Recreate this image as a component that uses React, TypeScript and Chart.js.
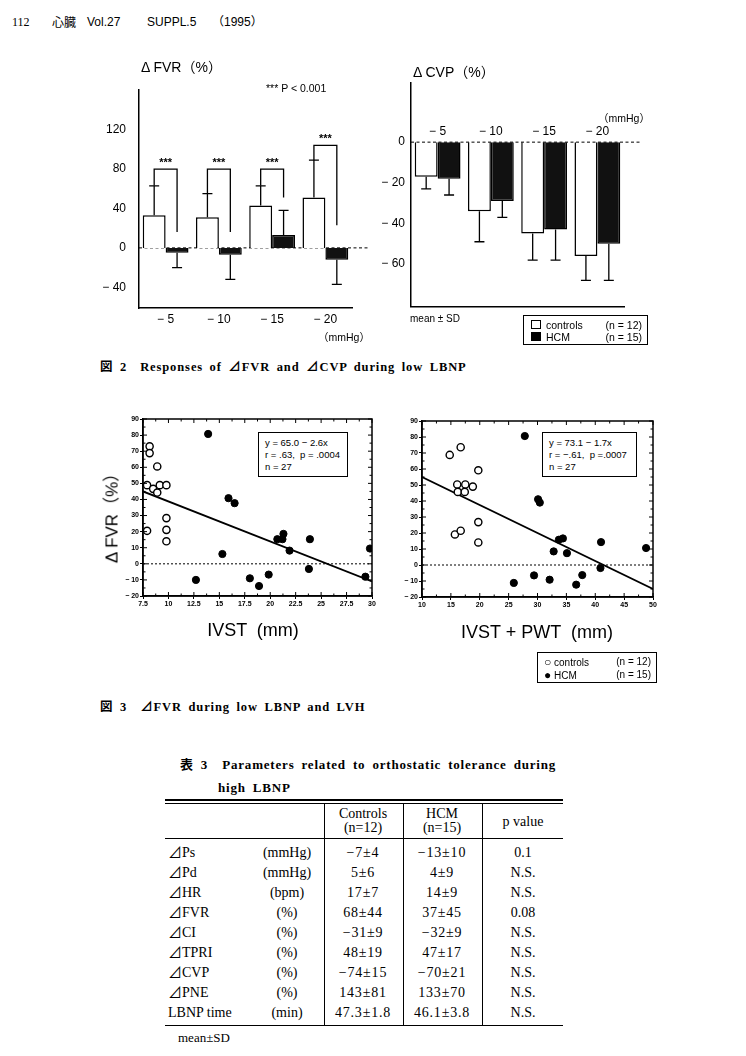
import React, { useEffect, useRef } from 'react';
import { Chart, registerables } from 'chart.js';
Chart.register(...registerables);

const SANS = '"Liberation Sans", Arial, "Noto Sans CJK JP", sans-serif';
const SERIF = '"Liberation Serif", "Times New Roman", "Noto Sans CJK JP", serif';
const CJK = '"Noto Sans CJK JP", sans-serif';

// ---------- Fig. 2 data ----------
const pressures = ['− 5', '− 10', '− 15', '− 20'];
const fvrControls = [33, 31, 43, 51];
const fvrControlsSD = [30, 24, 20, 38];
const fvrHCM = [-5, -7, 13, -12];
const fvrHCMSD = [15, 25, 25, 25];
const fvrTicks = [-40, 0, 40, 80, 120];
const fvrBracketTop = [80, 80, 80, 104];
const fvrBracketRightEnd = [16, 16, 51, 23];

const cvpControls = [-17, -34, -45, -56];
const cvpControlsSD = [6, 15, 13, 12];
const cvpHCM = [-18, -29, -43, -50];
const cvpHCMSD = [8, 8, 15, 18];
const cvpTicks = [-60, -40, -20, 0];

// ---------- Fig. 3 data ----------
const scatterYTicks = [-20, -10, 0, 10, 20, 30, 40, 50, 60, 70, 80, 90];
const ivstTicks = [7.5, 10, 12.5, 15, 17.5, 20, 22.5, 25, 27.5, 30];
const ivstControlsX = [8.15, 8.15, 7.9, 8.5, 8.9, 8.9, 9.15, 9.8, 7.9, 9.8, 9.8, 9.8];
const ivstControlsY = [73, 68.8, 48.9, 46.6, 60.5, 44.3, 48.9, 48.9, 20.5, 28.4, 21.1, 14];
const ivstHCMX = [13.9, 15.9, 16.5, 15.3, 12.7, 18.0, 18.9, 19.85, 20.7, 21.2, 21.3, 21.9, 23.9, 23.8, 29.35, 29.8];
const ivstHCMY = [80.7, 40.8, 37.7, 6.1, -10, -9, -13.8, -6.7, 15.3, 15.3, 18.6, 8.2, 15.3, -3.2, -8, 9.5];
const ivstRegX = [7.5, 30];
const ivstRegY = [45, -11];

const pwtTicks = [10, 15, 20, 25, 30, 35, 40, 45, 50];
const pwtControlsX = [14.8, 16.7, 16.1, 17.5, 18.8, 19.75, 16.2, 17.4, 15.7, 16.7, 19.75, 19.75];
const pwtControlsY = [68.8, 73.6, 50.3, 50.3, 49.0, 59.2, 45.7, 45.7, 19.1, 21.4, 26.8, 14.1];
const pwtHCMX = [27.8, 30.1, 30.4, 32.8, 33.7, 34.4, 35.1, 41.0, 40.9, 48.8, 25.9, 29.4, 32.1, 36.7, 37.75];
const pwtHCMY = [80.6, 41.1, 39.0, 8.5, 15.8, 16.6, 7.4, 14.3, -1.9, 10.6, -11.2, -6.5, -9.2, -12.3, -6.3];
const pwtRegX = [10, 50];
const pwtRegY = [55, -15];

// ---------- Table 3 data ----------
const tableLabels = ['⊿Ps', '⊿Pd', '⊿HR', '⊿FVR', '⊿CI', '⊿TPRI', '⊿CVP', '⊿PNE', 'LBNP time'];
const tableUnits = ['(mmHg)', '(mmHg)', '(bpm)', '(%)', '(%)', '(%)', '(%)', '(%)', '(min)'];
const tableControls = ['−7±4', '5±6', '17±7', '68±44', '−31±9', '48±19', '−74±15', '143±81', '47.3±1.8'];
const tableHCM = ['−13±10', '4±9', '14±9', '37±45', '−32±9', '47±17', '−70±21', '133±70', '46.1±3.8'];
const tableP = ['0.1', 'N.S.', 'N.S.', '0.08', 'N.S.', 'N.S.', 'N.S.', 'N.S.', 'N.S.'];

const fmtNeg = (v: number) => (v < 0 ? `− ${-v}` : `${v}`);
const zip = (xs: number[], ys: number[]) => xs.map((x, i) => ({ x, y: ys[i] }));

function drawErrorBars(chart: any, series: [number[], number[]][]) {
  const { ctx, scales: { y } } = chart;
  ctx.save();
  ctx.strokeStyle = '#000';
  ctx.lineWidth = 1.3;
  series.forEach(([vals, sds], di) => {
    chart.getDatasetMeta(di).data.forEach((el: any, i: number) => {
      const v = vals[i];
      const e = v + Math.sign(v) * sds[i];
      const yb = y.getPixelForValue(v);
      const ye = y.getPixelForValue(e);
      ctx.beginPath();
      ctx.moveTo(el.x, yb);
      ctx.lineTo(el.x, ye);
      ctx.moveTo(el.x - 5, ye);
      ctx.lineTo(el.x + 5, ye);
      ctx.stroke();
    });
  });
  ctx.restore();
}

function drawZeroLine(chart: any, extra: number) {
  const { ctx, chartArea: ca, scales: { y } } = chart;
  const y0 = y.getPixelForValue(0);
  ctx.save();
  ctx.strokeStyle = '#000';
  ctx.lineWidth = 1;
  ctx.setLineDash([3, 2.5]);
  ctx.beginPath();
  ctx.moveTo(ca.left, y0);
  ctx.lineTo(ca.right + extra, y0);
  ctx.stroke();
  ctx.restore();
}

const fvrPlugin = {
  id: 'fvrExtras',
  beforeDatasetsDraw(chart: any) {
    drawZeroLine(chart, 18);
  },
  afterDatasetsDraw(chart: any) {
    drawErrorBars(chart, [[fvrControls, fvrControlsSD], [fvrHCM, fvrHCMSD]]);
    const { ctx, scales: { y } } = chart;
    const c = chart.getDatasetMeta(0).data;
    const h = chart.getDatasetMeta(1).data;
    ctx.save();
    ctx.strokeStyle = '#000';
    ctx.lineWidth = 1.3;
    ctx.fillStyle = '#000';
    ctx.font = `bold 11px ${SANS}`;
    ctx.textAlign = 'center';
    ctx.textBaseline = 'middle';
    pressures.forEach((_, i) => {
      const xl = c[i].x;
      const xr = h[i].x;
      const yt = y.getPixelForValue(fvrBracketTop[i]);
      const yl = y.getPixelForValue(fvrControls[i] + fvrControlsSD[i]);
      const yr = y.getPixelForValue(fvrBracketRightEnd[i]);
      ctx.beginPath();
      ctx.moveTo(xl, yl);
      ctx.lineTo(xl, yt);
      ctx.lineTo(xr, yt);
      ctx.lineTo(xr, yr);
      ctx.stroke();
      ctx.fillText('***', (xl + xr) / 2, yt - 6);
    });
    ctx.restore();
  },
};

const cvpPlugin = {
  id: 'cvpExtras',
  afterDatasetsDraw(chart: any) {
    drawZeroLine(chart, 18);
    drawErrorBars(chart, [[cvpControls, cvpControlsSD], [cvpHCM, cvpHCMSD]]);
    const { ctx, scales: { x, y } } = chart;
    ctx.save();
    ctx.fillStyle = '#000';
    ctx.font = `12px ${SANS}`;
    ctx.textAlign = 'center';
    ctx.textBaseline = 'middle';
    const y0 = y.getPixelForValue(0);
    pressures.forEach((p, i) => ctx.fillText(p, x.getPixelForValue(i), y0 - 10));
    ctx.restore();
  },
};

const framePlugin = {
  id: 'frame',
  afterDraw(chart: any) {
    const { ctx, chartArea: ca, scales: { x, y } } = chart;
    ctx.save();
    ctx.strokeStyle = '#000';
    ctx.lineWidth = 1.5;
    ctx.strokeRect(ca.left, ca.top, ca.right - ca.left, ca.bottom - ca.top);
    ctx.lineWidth = 1;
    const xt = x.ticks.map((t: any) => t.value);
    const yt = y.ticks.map((t: any) => t.value);
    const mids = (a: number[]) => a.slice(1).map((v, i) => (v + a[i]) / 2);
    ctx.beginPath();
    const tick = (vals: number[], len: number) => {
      vals.forEach((v) => {
        const px = x.getPixelForValue(v);
        ctx.moveTo(px, ca.bottom); ctx.lineTo(px, ca.bottom - len);
        ctx.moveTo(px, ca.top); ctx.lineTo(px, ca.top + len);
      });
    };
    const tickY = (vals: number[], len: number) => {
      vals.forEach((v) => {
        const py = y.getPixelForValue(v);
        ctx.moveTo(ca.left, py); ctx.lineTo(ca.left + len, py);
        ctx.moveTo(ca.right, py); ctx.lineTo(ca.right - len, py);
      });
    };
    tick(xt, 4); tick(mids(xt), 2.5);
    tickY(yt, 4); tickY(mids(yt), 2.5);
    ctx.stroke();
    ctx.restore();
  },
};

function barConfig(kind: 'fvr' | 'cvp') {
  const isF = kind === 'fvr';
  return {
    type: 'bar',
    data: {
      labels: pressures,
      datasets: [
        { label: 'controls', data: isF ? fvrControls : cvpControls, backgroundColor: '#fff', borderColor: '#000', borderWidth: 1.5, borderSkipped: 'start' },
        { label: 'HCM', data: isF ? fvrHCM : cvpHCM, backgroundColor: '#111', borderColor: '#000', borderWidth: 1.5, borderSkipped: 'start' },
      ],
    },
    options: {
      responsive: false,
      animation: false,
      layout: { padding: isF ? { left: 0, right: 23, top: 10, bottom: 22 } : { left: 0, right: 21, top: 12, bottom: 12 } },
      datasets: { bar: { categoryPercentage: 0.86, barPercentage: 1 } },
      plugins: { legend: { display: false }, tooltip: { enabled: false } },
      scales: {
        x: {
          grid: { display: false, drawTicks: false },
          border: { display: true, color: '#000', width: 1.5 },
          ticks: { display: isF, color: '#000', font: { family: SANS, size: 12 }, padding: 4, maxRotation: 0 },
          afterFit: (s: any) => { s.height = isF ? 20 : 0; },
        },
        y: {
          min: isF ? -61 : -81,
          max: isF ? 160 : 29,
          grid: { display: false, drawTicks: false },
          border: { display: true, color: '#000', width: 1.5 },
          afterBuildTicks: (s: any) => { s.ticks = (isF ? fvrTicks : cvpTicks).map((v) => ({ value: v })); },
          ticks: { color: '#000', font: { family: SANS, size: 12 }, padding: isF ? 13 : 6, callback: (v: any) => fmtNeg(Number(v)) },
          afterFit: (s: any) => { s.width = isF ? 44 : 46; },
        },
      },
    },
    plugins: [isF ? fvrPlugin : cvpPlugin],
  };
}

function scatterConfig(o: any) {
  const xMin = o.xTicks[0];
  const xMax = o.xTicks[o.xTicks.length - 1];
  return {
    type: 'scatter',
    data: {
      datasets: [
        { type: 'line', data: [{ x: xMin, y: 0 }, { x: xMax, y: 0 }], borderColor: '#000', borderWidth: 1, borderDash: [2, 2], pointRadius: 0, order: 3 },
        { type: 'line', data: zip(o.rx, o.ry), borderColor: '#000', borderWidth: 1.8, pointRadius: 0, order: 2 },
        { data: zip(o.cx, o.cy), pointRadius: 3.6, pointBackgroundColor: '#fff', pointBorderColor: '#000', pointBorderWidth: 1.4, order: 1 },
        { data: zip(o.hx, o.hy), pointRadius: 3.6, pointBackgroundColor: '#000', pointBorderColor: '#000', pointBorderWidth: 1, order: 0 },
      ],
    },
    options: {
      responsive: false,
      animation: false,
      layout: { padding: o.pad },
      plugins: { legend: { display: false }, tooltip: { enabled: false } },
      scales: {
        x: {
          type: 'linear',
          min: xMin,
          max: xMax,
          grid: { display: true, drawOnChartArea: false, drawTicks: true, tickLength: 3, color: '#000', lineWidth: 1 },
          border: { display: true, color: '#000', width: 1.5 },
          afterBuildTicks: (s: any) => { s.ticks = o.xTicks.map((v: number) => ({ value: v })); },
          ticks: { color: '#000', font: { family: SANS, size: 7, weight: 'bold' }, padding: 1, maxRotation: 0, autoSkip: false, callback: (v: any) => String(v) },
          afterFit: (s: any) => { s.height = 14; },
        },
        y: {
          min: -20,
          max: 90,
          grid: { display: true, drawOnChartArea: false, drawTicks: true, tickLength: 3, color: '#000', lineWidth: 1 },
          border: { display: true, color: '#000', width: 1.5 },
          afterBuildTicks: (s: any) => { s.ticks = scatterYTicks.map((v) => ({ value: v })); },
          ticks: { color: '#000', font: { family: SANS, size: 7, weight: 'bold' }, padding: 1, autoSkip: false, callback: (v: any) => fmtNeg(Number(v)) },
          afterFit: (s: any) => { s.width = o.wY; },
        },
      },
    },
    plugins: [framePlugin],
  };
}

function ChartCanvas({ left, top, width, height, make }: any) {
  const ref = useRef<HTMLCanvasElement>(null);
  useEffect(() => {
    const chart = new Chart(ref.current as HTMLCanvasElement, make());
    return () => chart.destroy();
  }, []);
  return <canvas ref={ref} width={width} height={height} style={{ position: 'absolute', left, top, width, height }} />;
}

function T({ x, y, size, children, align = 'left', family = SANS, bold = false, ls = 0, ws = 0 }: any) {
  const tx = align === 'center' ? '-50%' : align === 'right' ? '-100%' : '0';
  return (
    <div
      style={{
        position: 'absolute', left: x, top: y, transform: `translate(${tx}, -50%)`,
        fontSize: size, lineHeight: `${Math.round(size * 1.2)}px`, fontFamily: family,
        fontWeight: bold ? 700 : 400, letterSpacing: ls, wordSpacing: ws, whiteSpace: 'pre', color: '#000',
      }}
    >
      {children}
    </div>
  );
}

function Line({ x, y, w, h }: any) {
  return <div style={{ position: 'absolute', left: x, top: y, width: w, height: h, background: '#000' }} />;
}

function Box({ x, y, w, h, children }: any) {
  return (
    <div style={{ position: 'absolute', left: x, top: y, width: w, height: h, border: '1.5px solid #000', boxSizing: 'border-box', background: '#fff' }}>
      {children}
    </div>
  );
}

export default function App() {
  const rowY = (i: number) => 852 + i * 20;
  return (
    <div style={{ position: 'absolute', left: 0, top: 0, width: 746, height: 1056, background: '#fff', overflow: 'hidden' }}>
      {/* running header */}
      <T x={12} y={22} size={12} family={SERIF}>112</T>
      <T x={52} y={22} size={12} family={CJK}>心臓</T>
      <T x={87} y={22} size={12}>Vol.27</T>
      <T x={147} y={22} size={12}>SUPPL.5</T>
      <T x={212} y={22} size={12}>（1995）</T>

      {/* Fig 2 */}
      <ChartCanvas left={95} top={70} width={280} height={280} make={() => barConfig('fvr')} />
      <ChartCanvas left={365} top={70} width={280} height={250} make={() => barConfig('cvp')} />
      <T x={141} y={67} size={14}>Δ FVR（%）</T>
      <T x={266} y={88} size={10.5}>*** P &lt; 0.001</T>
      <T x={318} y={337} size={10.5}>（mmHg）</T>
      <T x={413} y={72} size={14}>Δ CVP（%）</T>
      <T x={598} y={118} size={10.5}>（mmHg）</T>
      <T x={410} y={319} size={10}>mean ± SD</T>
      <Box x={523} y={315} w={125} h={30}>
        <div style={{ position: 'absolute', left: 7, top: 4, width: 10, height: 9, border: '1.3px solid #000', boxSizing: 'border-box' }} />
        <div style={{ position: 'absolute', left: 7, top: 16, width: 10, height: 9, background: '#000' }} />
        <T x={22} y={9} size={10.5}>controls</T>
        <T x={118} y={9} size={10.5} align="right">(n = 12)</T>
        <T x={22} y={21} size={10.5}>HCM</T>
        <T x={118} y={21} size={10.5} align="right">(n = 15)</T>
      </Box>
      <T x={100} y={367} size={12.5} family={SERIF} bold ls={0.9} ws={2.5}>図 2  Responses of ⊿FVR and ⊿CVP during low LBNP</T>

      {/* Fig 3 */}
      <ChartCanvas
        left={100} top={405} width={290} height={215}
        make={() => scatterConfig({ cx: ivstControlsX, cy: ivstControlsY, hx: ivstHCMX, hy: ivstHCMY, rx: ivstRegX, ry: ivstRegY, xTicks: ivstTicks, wY: 43, pad: { left: 0, right: 18, top: 14, bottom: 10 } })}
      />
      <ChartCanvas
        left={390} top={405} width={275} height={215}
        make={() => scatterConfig({ cx: pwtControlsX, cy: pwtControlsY, hx: pwtHCMX, hy: pwtHCMY, rx: pwtRegX, ry: pwtRegY, xTicks: pwtTicks, wY: 32, pad: { left: 0, right: 12, top: 16, bottom: 9 } })}
      />
      <div style={{ position: 'absolute', left: 110, top: 514, transform: 'translate(-50%, -50%) rotate(-90deg)', fontSize: 17, fontFamily: SANS, whiteSpace: 'pre' }}>Δ FVR（%）</div>
      <T x={253} y={630} size={18} align="center">IVST  (mm)</T>
      <T x={537} y={632} size={18} align="center">IVST + PWT  (mm)</T>
      <Box x={258} y={432} w={90} h={45}>
        <T x={6} y={9} size={9.5}>y = 65.0 − 2.6x</T>
        <T x={6} y={21} size={9.5}>r = .63,  p = .0004</T>
        <T x={6} y={33} size={9.5}>n = 27</T>
      </Box>
      <Box x={542} y={432} w={95} h={45}>
        <T x={6} y={9} size={9.5}>y = 73.1 − 1.7x</T>
        <T x={6} y={21} size={9.5}>r = −.61,  p =.0007</T>
        <T x={6} y={33} size={9.5}>n = 27</T>
      </Box>
      <Box x={537} y={652} w={120} h={31}>
        <T x={6} y={9} size={10}><span style={{ fontSize: 12 }}>○</span> controls</T>
        <T x={113} y={9} size={10} align="right">(n = 12)</T>
        <T x={6} y={22} size={10}><span style={{ fontSize: 12 }}>●</span> HCM</T>
        <T x={113} y={22} size={10} align="right">(n = 15)</T>
      </Box>
      <T x={100} y={707} size={12.5} family={SERIF} bold ls={0.9} ws={2.5}>図 3  ⊿FVR during low LBNP and LVH</T>

      {/* Table 3 */}
      <T x={180} y={765} size={13} family={SERIF} bold ls={0.8} ws={3}>表 3  Parameters related to orthostatic tolerance during</T>
      <T x={218} y={788} size={13} family={SERIF} bold ls={0.8} ws={3}>high LBNP</T>
      <Line x={165} y={799} w={398} h={1.5} />
      <Line x={165} y={803} w={398} h={1} />
      <Line x={165} y={838} w={398} h={1} />
      <Line x={165} y={1025} w={398} h={1.2} />
      <Line x={324} y={803} w={1} h={222} />
      <Line x={403} y={803} w={1} h={222} />
      <Line x={482} y={803} w={1} h={222} />
      <T x={363} y={813} size={14} family={SERIF} align="center">Controls</T>
      <T x={363} y={827} size={14} family={SERIF} align="center">(n=12)</T>
      <T x={442} y={813} size={14} family={SERIF} align="center">HCM</T>
      <T x={442} y={827} size={14} family={SERIF} align="center">(n=15)</T>
      <T x={523} y={821} size={14} family={SERIF} align="center">p value</T>
      {tableLabels.map((l, i) => (
        <React.Fragment key={l}>
          <T x={168} y={rowY(i)} size={14} family={SERIF}>{l}</T>
          <T x={287} y={rowY(i)} size={14} family={SERIF} align="center">{tableUnits[i]}</T>
          <T x={363} y={rowY(i)} size={14} family={SERIF} align="center" ls={0.8}>{tableControls[i]}</T>
          <T x={442} y={rowY(i)} size={14} family={SERIF} align="center" ls={0.8}>{tableHCM[i]}</T>
          <T x={523} y={rowY(i)} size={14} family={SERIF} align="center">{tableP[i]}</T>
        </React.Fragment>
      ))}
      <T x={178} y={1038} size={13} family={SERIF}>mean±SD</T>
    </div>
  );
}
